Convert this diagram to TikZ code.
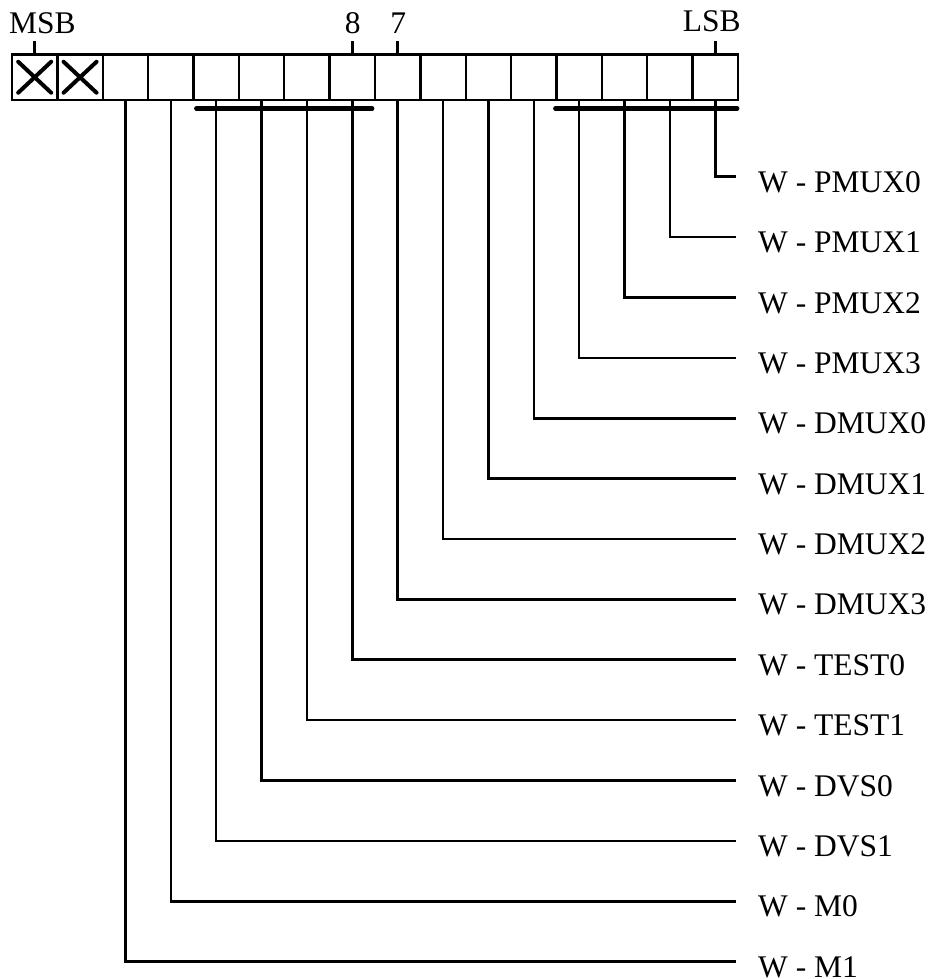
\documentclass[tikz,border=0pt]{standalone}
\usepackage{fontspec}
\setmainfont{Liberation Serif}
\usetikzlibrary{calc}
\tikzset{
  cell/.style={draw, line width=2.4pt, minimum width=45.375pt, minimum height=45.75pt, inner sep=0pt, outer sep=0pt},
  leader/.style={line width=2.6pt},
  bar/.style={line width=4.8pt, line cap=round},
  xmark/.style={line width=4pt, line cap=round},
  lbl/.style={font=\fontsize{31.5}{36}\selectfont, inner sep=0pt, anchor=base west},
  toplbl/.style={font=\fontsize{31.5}{36}\selectfont, inner sep=0pt, anchor=base},
  tick/.style={line width=2.4pt}
}
\begin{document}
\begin{tikzpicture}[x=1pt,y=-1pt]
\useasboundingbox (0,0) rectangle (927,979);
% register cells
\foreach \i in {0,...,15}{
  \node[cell] (c\i) at ({12+45.375*\i+22.6875},77.25) {};
}
% crossed cells
\foreach \i in {0,1}{
  \draw[xmark] ([shift={(-16.5,-15.5)}]c\i.center) -- ([shift={(16.5,15.5)}]c\i.center);
  \draw[xmark] ([shift={(-16.5,15.5)}]c\i.center) -- ([shift={(16.5,-15.5)}]c\i.center);
}
% top labels and ticks
\node[lbl] (msb) at (9,33.3) {MSB};
\node[toplbl] (b8) at (352.8,33.3) {8};
\node[toplbl] (b7) at (398.2,33.3) {7};
\node[toplbl] (lsb) at (711.7,32) {LSB};
\foreach \i in {0,7,8,15}{
  \draw[tick] (c\i.north) -- ++(0,-13.5);
}
% group bars
\draw[bar] ($(c4.south west)+(3,8.3)$) -- ($(c7.south east)+(-3,8.3)$);
\draw[bar] ($(c12.south west)+(-1,8.3)$) -- ($(c15.south east)+(-1,8.3)$);
% labels and leaders
\foreach \t [count=\r from 0] in {PMUX0,PMUX1,PMUX2,PMUX3,DMUX0,DMUX1,DMUX2,DMUX3,TEST0,TEST1,DVS0,DVS1,M0,M1}{
  \pgfmathsetmacro{\yy}{176.7+60.38*\r}
  \coordinate (e\r) at (736,\yy);
  \node[lbl] (l\r) at (758,\yy+15.6) {W - \t};
}
\foreach \i in {2,...,15}{
  \pgfmathtruncatemacro{\r}{15-\i}
  \draw[leader] (c\i.south) |- (e\r);
}
\end{tikzpicture}
\end{document}
